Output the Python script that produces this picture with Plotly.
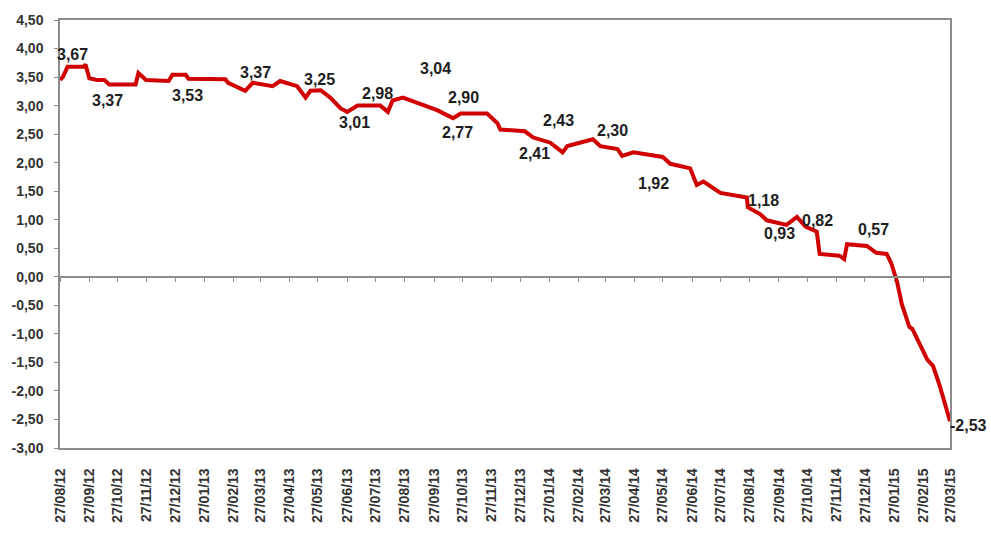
import plotly.graph_objects as go

# ---- data ----
dates = [
    "2012-08-27", "2012-08-30", "2012-09-04", "2012-09-21", "2012-09-23", "2012-09-27",
    "2012-10-05", "2012-10-13", "2012-10-18", "2012-11-15", "2012-11-18", "2012-11-26",
    "2012-12-20", "2012-12-24", "2013-01-07", "2013-01-10", "2013-02-18", "2013-02-21",
    "2013-03-11", "2013-03-19", "2013-04-09", "2013-04-17", "2013-04-23", "2013-05-05",
    "2013-05-14", "2013-05-19", "2013-05-30", "2013-06-09", "2013-06-20", "2013-06-27",
    "2013-07-08", "2013-08-01", "2013-08-09", "2013-08-14", "2013-08-25", "2013-09-12",
    "2013-09-30", "2013-10-17", "2013-10-25", "2013-11-22", "2013-12-03", "2013-12-06",
    "2014-01-01", "2014-01-10", "2014-01-28", "2014-02-10", "2014-02-15", "2014-03-14",
    "2014-03-22", "2014-04-09", "2014-04-14", "2014-04-26", "2014-05-27", "2014-06-04",
    "2014-06-25", "2014-07-02", "2014-07-09", "2014-07-27", "2014-08-06", "2014-08-24",
    "2014-08-25", "2014-09-07", "2014-09-14", "2014-10-05", "2014-10-16", "2014-10-25",
    "2014-11-06", "2014-11-09", "2014-11-30", "2014-12-05", "2014-12-08", "2014-12-29",
    "2015-01-08", "2015-01-19", "2015-01-24", "2015-01-30", "2015-02-04", "2015-02-12",
    "2015-02-15", "2015-03-03", "2015-03-09", "2015-03-16", "2015-03-27",
]
values = [
    3.45, 3.50, 3.68, 3.68, 3.72, 3.48,
    3.45, 3.45, 3.37, 3.37, 3.57, 3.45,
    3.43, 3.54, 3.54, 3.47, 3.46, 3.40,
    3.26, 3.40, 3.34, 3.43, 3.40, 3.34,
    3.14, 3.26, 3.27, 3.14, 2.95, 2.89,
    3.00, 3.00, 2.89, 3.09, 3.14, 3.03,
    2.92, 2.78, 2.86, 2.86, 2.69, 2.58,
    2.55, 2.44, 2.35, 2.18, 2.29, 2.41,
    2.29, 2.24, 2.12, 2.18, 2.10, 1.98,
    1.90, 1.61, 1.67, 1.47, 1.44, 1.39,
    1.22, 1.10, 0.99, 0.91, 1.05, 0.88,
    0.79, 0.40, 0.37, 0.31, 0.57, 0.54,
    0.42, 0.40, 0.23, -0.09, -0.48, -0.88,
    -0.91, -1.45, -1.56, -1.90, -2.53,
]

tick_dates = [
    "2012-08-27", "2012-09-27", "2012-10-27", "2012-11-27", "2012-12-27",
    "2013-01-27", "2013-02-27", "2013-03-27", "2013-04-27", "2013-05-27",
    "2013-06-27", "2013-07-27", "2013-08-27", "2013-09-27", "2013-10-27",
    "2013-11-27", "2013-12-27", "2014-01-27", "2014-02-27", "2014-03-27",
    "2014-04-27", "2014-05-27", "2014-06-27", "2014-07-27", "2014-08-27",
    "2014-09-27", "2014-10-27", "2014-11-27", "2014-12-27", "2015-01-27",
    "2015-02-27", "2015-03-27",
]
tick_labels = [
    "27/08/12", "27/09/12", "27/10/12", "27/11/12", "27/12/12",
    "27/01/13", "27/02/13", "27/03/13", "27/04/13", "27/05/13",
    "27/06/13", "27/07/13", "27/08/13", "27/09/13", "27/10/13",
    "27/11/13", "27/12/13", "27/01/14", "27/02/14", "27/03/14",
    "27/04/14", "27/05/14", "27/06/14", "27/07/14", "27/08/14",
    "27/09/14", "27/10/14", "27/11/14", "27/12/14", "27/01/15",
    "27/02/15", "27/03/15",
]
y_ticks = [-3.0, -2.5, -2.0, -1.5, -1.0, -0.5, 0.0, 0.5, 1.0, 1.5, 2.0, 2.5, 3.0, 3.5, 4.0, 4.5]
y_tick_labels = ["-3,00", "-2,50", "-2,00", "-1,50", "-1,00", "-0,50", "0,00", "0,50",
                 "1,00", "1,50", "2,00", "2,50", "3,00", "3,50", "4,00", "4,50"]

point_labels = ["3,67", "3,37", "3,53", "3,37", "3,25", "3,01", "2,98", "3,04", "2,90",
                "2,77", "2,41", "2,43", "2,30", "1,92", "1,18", "0,93", "0,82", "0,57", "-2,53"]

# ---- layout (pixel positions of the labels in the 991x535 picture) ----
W, H = 991, 535
L, R, T, B = 59, 41, 17, 77
label_px = [(72, 53), (107, 100), (187, 95), (255, 71), (319, 78), (354, 123), (377, 93),
            (435, 67), (463, 97), (457, 133), (534, 155), (558, 121), (612, 131),
            (653, 185), (763, 203), (779, 237), (817, 224), (873, 233), (969, 435)]
PW, PH = W - L - R, H - T - B

FONT = "Liberation Sans, Arial, sans-serif"
RED = "#d00000"
GRAY = "#8c8c8c"

fig = go.Figure()
fig.add_trace(go.Scatter(x=dates, y=values, mode="lines",
                         line=dict(color=RED, width=4), showlegend=False,
                         hoverinfo="skip"))
# invisible twin trace to carry the axis drawn at y = 0
fig.add_trace(go.Scatter(x=dates, y=values, mode="lines", xaxis="x2",
                         line=dict(color=RED, width=1), opacity=0,
                         showlegend=False, hoverinfo="skip"))

annotations = []
for txt, (px, py) in zip(point_labels, label_px):
    annotations.append(dict(
        text="<b>%s</b>" % txt, xref="paper", yref="paper",
        x=(px - L) / PW, y=(H - B - py) / PH, xanchor="center", yanchor="middle",
        showarrow=False, font=dict(family=FONT, size=16, color="#1e1e1e")))

fig.update_layout(
    width=W, height=H,
    margin=dict(l=L, r=R, t=T, b=B, pad=0),
    paper_bgcolor="white", plot_bgcolor="white",
    font=dict(family=FONT),
    annotations=annotations,
    xaxis=dict(
        type="date", range=[tick_dates[0], tick_dates[-1]],
        tickmode="array", tickvals=tick_dates, ticktext=["<b>%s</b>" % t for t in tick_labels],
        tickangle=-90, tickfont=dict(family=FONT, size=14, color="#333333"),
        ticks="", ticklabelstandoff=13,
        showgrid=False, zeroline=False,
        showline=True, linecolor=GRAY, linewidth=1.5, mirror=True,
    ),
    xaxis2=dict(
        type="date", range=[tick_dates[0], tick_dates[-1]], overlaying="x",
        anchor="free", position=0.4,
        tickmode="array", tickvals=tick_dates, showticklabels=False,
        ticks="outside", ticklen=4, tickcolor=GRAY, tickwidth=1,
        showgrid=False, zeroline=False,
        showline=True, linecolor=GRAY, linewidth=1.5,
    ),
    yaxis=dict(
        range=[-3, 4.5], tickmode="array", tickvals=y_ticks,
        ticktext=["<b>%s</b>" % t for t in y_tick_labels],
        tickfont=dict(family=FONT, size=14, color="#333333"),
        ticks="outside", ticklen=4, tickcolor=GRAY, tickwidth=1,
        ticklabelstandoff=8,
        showgrid=False, zeroline=False,
        showline=True, linecolor=GRAY, linewidth=1.5, mirror=True,
    ),
)

fig.write_html("out.html")
